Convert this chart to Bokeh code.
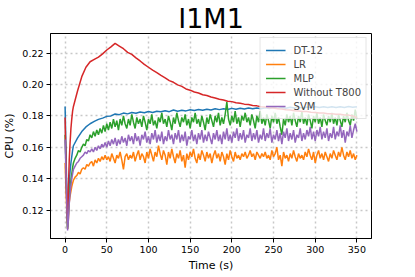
from bokeh.plotting import figure
from bokeh.models import Range1d, FixedTicker, Legend, LegendItem, PrintfTickFormatter
from bokeh.embed import file_html
from bokeh.resources import INLINE

# Time axes (seconds)
t_noisy = [0, 1, 2, 3, 4, 5, 6, 7, 8, 9] + list(range(10, 351, 2))
t_smooth = [0, 1, 2, 3, 4, 5, 6, 7, 8, 9] + list(range(10, 351, 5))

x_ticks = [0, 50, 100, 150, 200, 250, 300, 350]
y_ticks = [0.12, 0.14, 0.16, 0.18, 0.20, 0.22]

dt12 = [0.186, 0.160, 0.132, 0.108, 0.125, 0.138, 0.145, 0.150, 0.154, 0.158,
        0.161, 0.166, 0.170, 0.173, 0.175, 0.1765, 0.1778, 0.1786, 0.1797, 0.1800,
        0.1812, 0.1808, 0.1818, 0.1813, 0.1822, 0.1817, 0.1825, 0.1820, 0.1828, 0.1822,
        0.1830, 0.1826, 0.1833, 0.1827, 0.1838, 0.1830, 0.1836, 0.1832, 0.1839, 0.1834,
        0.1841, 0.1836, 0.1843, 0.1838, 0.1845, 0.1840, 0.1846, 0.1841, 0.1848, 0.1843,
        0.1849, 0.1844, 0.1850, 0.1845, 0.1851, 0.1846, 0.1852, 0.1847, 0.1853, 0.1848,
        0.1854, 0.1849, 0.1855, 0.1850, 0.1856, 0.1851, 0.1857, 0.1852, 0.1858, 0.1853,
        0.1858, 0.1853, 0.1859, 0.1854, 0.1859, 0.1854, 0.1860, 0.1855, 0.1858]

without_t800 = [0.179, 0.150, 0.125, 0.112, 0.135, 0.152, 0.163, 0.172, 0.178, 0.183,
                0.186, 0.196, 0.205, 0.211, 0.2145, 0.2160, 0.2175, 0.2195, 0.2220, 0.2240,
                0.2262, 0.2245, 0.2228, 0.2205, 0.2192, 0.2170, 0.2150, 0.2128, 0.2110, 0.2092,
                0.2076, 0.2058, 0.2042, 0.2025, 0.2014, 0.1998, 0.1988, 0.1972, 0.1964, 0.1952,
                0.1946, 0.1935, 0.1930, 0.1920, 0.1914, 0.1906, 0.1901, 0.1894, 0.1891, 0.1884,
                0.1880, 0.1875, 0.1872, 0.1866, 0.1864, 0.1859, 0.1857, 0.1852, 0.1850, 0.1845,
                0.1844, 0.1839, 0.1838, 0.1833, 0.1832, 0.1828, 0.1828, 0.1823, 0.1822, 0.1818,
                0.1818, 0.1814, 0.1814, 0.1810, 0.1810, 0.1806, 0.1805, 0.1800, 0.1788]

lr = [0.150, 0.135, 0.120, 0.108, 0.115, 0.125, 0.129, 0.132, 0.135, 0.137,
      0.139, 0.141, 0.142, 0.144, 0.143, 0.146, 0.147, 0.146, 0.149, 0.148,
      0.150, 0.151, 0.148, 0.152, 0.150, 0.153, 0.151, 0.154, 0.152, 0.155,
      0.152, 0.154, 0.151, 0.156, 0.153, 0.150, 0.155, 0.153, 0.157, 0.152,
      0.146, 0.154, 0.156, 0.152, 0.155, 0.153, 0.157, 0.151, 0.155, 0.158,
      0.152, 0.156, 0.154, 0.150, 0.157, 0.153, 0.159, 0.155, 0.151, 0.157,
      0.154, 0.161, 0.156, 0.152, 0.158, 0.155, 0.149, 0.157, 0.153, 0.159,
      0.154, 0.150, 0.156, 0.153, 0.158, 0.151, 0.155, 0.147, 0.156, 0.152,
      0.157, 0.154, 0.159, 0.153, 0.150, 0.156, 0.152, 0.158, 0.155, 0.151,
      0.157, 0.153, 0.156, 0.150, 0.155, 0.158, 0.153, 0.156, 0.151, 0.157,
      0.154, 0.149, 0.156, 0.152, 0.158, 0.154, 0.151, 0.157, 0.153, 0.155,
      0.152, 0.156, 0.154, 0.157, 0.153, 0.155, 0.158, 0.154, 0.156, 0.152,
      0.157, 0.155, 0.153, 0.156, 0.154, 0.157, 0.153, 0.155, 0.152, 0.158,
      0.154, 0.156, 0.160, 0.152, 0.155, 0.148, 0.157, 0.153, 0.155, 0.151,
      0.156, 0.153, 0.158, 0.154, 0.151, 0.156, 0.153, 0.155, 0.152, 0.157,
      0.154, 0.159, 0.155, 0.152, 0.157, 0.150, 0.155, 0.158, 0.153, 0.156,
      0.152, 0.157, 0.154, 0.151, 0.156, 0.153, 0.158, 0.155, 0.152, 0.157,
      0.154, 0.160, 0.155, 0.152, 0.157, 0.154, 0.158, 0.153, 0.156, 0.152,
      0.155]

mlp = [0.168, 0.150, 0.128, 0.109, 0.118, 0.128, 0.134, 0.139, 0.143, 0.147,
       0.150, 0.153, 0.155, 0.158, 0.157, 0.160, 0.162, 0.161, 0.165, 0.164,
       0.168, 0.166, 0.170, 0.167, 0.171, 0.168, 0.172, 0.169, 0.174, 0.170,
       0.175, 0.171, 0.176, 0.172, 0.178, 0.173, 0.177, 0.171, 0.178, 0.174,
       0.180, 0.175, 0.172, 0.178, 0.174, 0.181, 0.176, 0.172, 0.179, 0.175,
       0.178, 0.173, 0.180, 0.176, 0.171, 0.178, 0.175, 0.181, 0.174, 0.177,
       0.172, 0.179, 0.176, 0.182, 0.175, 0.178, 0.173, 0.180, 0.176, 0.171,
       0.179, 0.175, 0.182, 0.177, 0.173, 0.179, 0.176, 0.181, 0.174, 0.178,
       0.172, 0.179, 0.176, 0.182, 0.175, 0.178, 0.173, 0.180, 0.176, 0.171,
       0.179, 0.175, 0.181, 0.177, 0.173, 0.180, 0.176, 0.182, 0.174, 0.179,
       0.175, 0.181, 0.189, 0.178, 0.174, 0.180, 0.176, 0.183, 0.175, 0.179,
       0.173, 0.180, 0.177, 0.182, 0.176, 0.179, 0.174, 0.181, 0.177, 0.172,
       0.180, 0.176, 0.183, 0.175, 0.179, 0.174, 0.181, 0.177, 0.172, 0.180,
       0.176, 0.182, 0.175, 0.179, 0.173, 0.168, 0.178, 0.174, 0.181, 0.176,
       0.180, 0.174, 0.182, 0.177, 0.173, 0.180, 0.176, 0.183, 0.175, 0.179,
       0.174, 0.181, 0.177, 0.172, 0.180, 0.176, 0.182, 0.175, 0.179, 0.173,
       0.181, 0.177, 0.174, 0.180, 0.176, 0.182, 0.175, 0.179, 0.174, 0.181,
       0.177, 0.173, 0.180, 0.176, 0.182, 0.177, 0.174, 0.181, 0.177, 0.184,
       0.178]

svm = [0.165, 0.145, 0.125, 0.107, 0.114, 0.124, 0.131, 0.136, 0.140, 0.143,
       0.146, 0.148, 0.150, 0.151, 0.153, 0.154, 0.155, 0.157, 0.156, 0.158,
       0.157, 0.159, 0.157, 0.160, 0.158, 0.161, 0.159, 0.162, 0.160, 0.163,
       0.160, 0.164, 0.161, 0.165, 0.162, 0.166, 0.161, 0.165, 0.162, 0.167,
       0.163, 0.166, 0.161, 0.168, 0.164, 0.167, 0.162, 0.169, 0.164, 0.167,
       0.161, 0.168, 0.165, 0.170, 0.163, 0.167, 0.162, 0.169, 0.165, 0.171,
       0.163, 0.168, 0.164, 0.170, 0.162, 0.167, 0.164, 0.171, 0.165, 0.168,
       0.162, 0.169, 0.165, 0.171, 0.163, 0.168, 0.164, 0.170, 0.161, 0.167,
       0.165, 0.171, 0.164, 0.168, 0.162, 0.169, 0.165, 0.171, 0.163, 0.168,
       0.164, 0.170, 0.166, 0.162, 0.169, 0.165, 0.171, 0.164, 0.168, 0.162,
       0.170, 0.165, 0.172, 0.164, 0.168, 0.163, 0.170, 0.166, 0.172, 0.164,
       0.169, 0.165, 0.171, 0.163, 0.168, 0.166, 0.172, 0.164, 0.169, 0.165,
       0.171, 0.163, 0.168, 0.165, 0.172, 0.164, 0.169, 0.166, 0.172, 0.163,
       0.168, 0.165, 0.171, 0.164, 0.169, 0.162, 0.170, 0.166, 0.172, 0.164,
       0.169, 0.165, 0.171, 0.163, 0.168, 0.166, 0.172, 0.164, 0.169, 0.165,
       0.171, 0.167, 0.173, 0.165, 0.170, 0.164, 0.171, 0.167, 0.173, 0.165,
       0.170, 0.166, 0.172, 0.164, 0.169, 0.166, 0.173, 0.165, 0.170, 0.167,
       0.174, 0.166, 0.171, 0.163, 0.170, 0.167, 0.174, 0.166, 0.171, 0.175,
       0.170]

series = [
    ("DT-12", t_smooth, dt12, "#1f77b4"),
    ("LR", t_noisy, lr, "#ff7f0e"),
    ("MLP", t_noisy, mlp, "#2ca02c"),
    ("Without T800", t_smooth, without_t800, "#d62728"),
    ("SVM", t_noisy, svm, "#9467bd"),
]

FONT = "DejaVu Sans"

p = figure(frame_width=321, frame_height=205,
           x_range=Range1d(-17.5, 367.5), y_range=Range1d(0.1019, 0.2325),
           output_backend="svg", toolbar_location=None,
           min_border_left=44, min_border_right=34, min_border_top=25, min_border_bottom=28)

p.title.text = "I1M1"
p.title.text_font = FONT
p.title.text_font_size = "27px"
p.title.text_font_style = "normal"
p.title.text_color = "black"
p.title.align = "center"
p.title.standoff = 0
p.title.offset = 0

items = []
for name, tx, ty, col in series:
    r = p.line(tx, ty, line_color=col, line_width=1.5)
    items.append(LegendItem(label=name, renderers=[r]))

legend = Legend(items=items, location="top_right")
legend.margin = 4
legend.padding = 5
legend.spacing = 0
legend.label_height = 14
legend.glyph_height = 14
legend.glyph_width = 20
legend.label_standoff = 8
legend.label_text_font = FONT
legend.label_text_font_size = "10px"
legend.background_fill_alpha = 0.8
legend.border_line_color = "#cccccc"
legend.border_line_width = 1
p.add_layout(legend)

p.xaxis.ticker = FixedTicker(ticks=x_ticks)
p.yaxis.ticker = FixedTicker(ticks=y_ticks)
p.yaxis.formatter = PrintfTickFormatter(format="%.2f")
p.xaxis.axis_label = "Time (s)"
p.yaxis.axis_label = "CPU (%)"
for ax in (p.xaxis[0], p.yaxis[0]):
    ax.axis_label_text_font = FONT
    ax.axis_label_text_font_size = "11px"
    ax.axis_label_text_font_style = "normal"
    ax.axis_label_text_color = "black"
    ax.major_label_text_font = FONT
    ax.major_label_text_font_size = "9.5px"
    ax.major_label_text_color = "black"
    ax.axis_line_color = "black"
    ax.major_tick_line_color = "black"
    ax.major_tick_out = 4
    ax.major_tick_in = 0
    ax.minor_tick_line_color = None
    ax.major_label_standoff = 3
    ax.axis_label_standoff = 3

p.outline_line_color = "black"
p.outline_line_width = 1
p.outline_line_alpha = 1

p.xgrid.grid_line_color = "#c8c8c8"
p.ygrid.grid_line_color = "#c8c8c8"
p.xgrid.grid_line_dash = "2 3"
p.ygrid.grid_line_dash = "2 3"
p.xgrid.grid_line_width = 1.5
p.ygrid.grid_line_width = 1.5

open("out.html", "w").write(file_html(p, INLINE))
